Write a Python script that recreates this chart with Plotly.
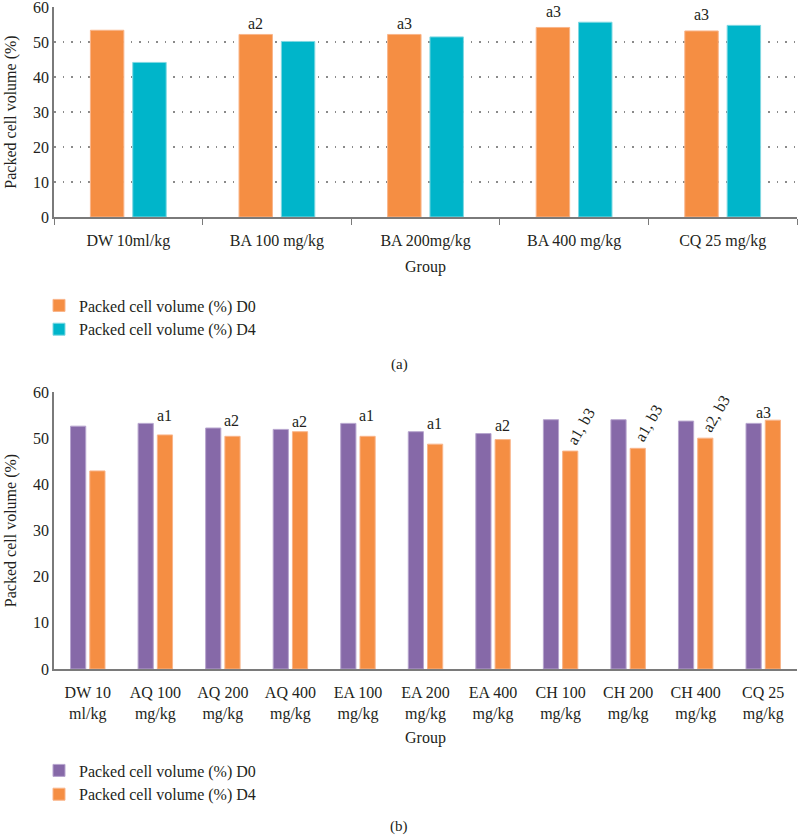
import plotly.graph_objects as go

# ---------------- data ----------------
groups_a = ["DW 10ml/kg", "BA 100 mg/kg", "BA 200mg/kg", "BA 400 mg/kg", "CQ 25 mg/kg"]
pcv_d0_a = [53.4, 52.2, 52.2, 54.2, 53.2]
pcv_d4_a = [44.2, 50.2, 51.5, 55.7, 54.8]
sig_a = ["", "a2", "a3", "a3", "a3"]

groups_b = ["DW 10 ml/kg", "AQ 100 mg/kg", "AQ 200 mg/kg", "AQ 400 mg/kg", "EA 100 mg/kg",
            "EA 200 mg/kg", "EA 400 mg/kg", "CH 100 mg/kg", "CH 200 mg/kg", "CH 400 mg/kg",
            "CQ 25 mg/kg"]
ticks_b = ["DW 10<br>ml/kg", "AQ 100<br>mg/kg", "AQ 200<br>mg/kg", "AQ 400<br>mg/kg",
           "EA 100<br>mg/kg", "EA 200<br>mg/kg", "EA 400<br>mg/kg", "CH 100<br>mg/kg",
           "CH 200<br>mg/kg", "CH 400<br>mg/kg", "CQ 25<br>mg/kg"]
pcv_d0_b = [52.6, 53.2, 52.2, 51.9, 53.2, 51.4, 51.0, 54.0, 54.0, 53.7, 53.2]
pcv_d4_b = [42.9, 50.7, 50.4, 51.4, 50.4, 48.7, 49.7, 47.2, 47.8, 50.0, 53.9]
sig_b = ["", "a1", "a2", "a2", "a1", "a1", "a2", "a1, b3", "a1, b3", "a2, b3", "a3"]

y_ticks = [0, 10, 20, 30, 40, 50, 60]
series_names = ["Packed cell volume (%) D0", "Packed cell volume (%) D4"]

# ---------------- style ----------------
FONT = "Liberation Serif"
ORANGE = "#F58E43"
TEAL = "#00B5CA"
PURPLE = "#8669A8"
AXIS = "#7a7a7a"
TXT = "#231f20"

W, H = 798, 839


def px_x(p):
    return p / W


def px_y(p):
    return 1 - p / H


fig = go.Figure()

fig.add_trace(go.Bar(x=groups_a, y=pcv_d0_a, name=series_names[0], marker_color=ORANGE,
                     marker_line=dict(color="#F9B58A", width=1),
                     xaxis="x", yaxis="y", legend="legend"))
fig.add_trace(go.Bar(x=groups_a, y=pcv_d4_a, name=series_names[1], marker_color=TEAL,
                     marker_line=dict(color="#7FD8E2", width=1),
                     xaxis="x", yaxis="y", legend="legend"))
fig.add_trace(go.Bar(x=groups_b, y=pcv_d0_b, name=series_names[0], marker_color=PURPLE,
                     marker_line=dict(color="#B7A5CE", width=1),
                     xaxis="x2", yaxis="y2", legend="legend2"))
fig.add_trace(go.Bar(x=groups_b, y=pcv_d4_b, name=series_names[1], marker_color=ORANGE,
                     marker_line=dict(color="#F9B58A", width=1),
                     xaxis="x2", yaxis="y2", legend="legend2"))

annotations = []
# panel (a): labels above the D0 bar
for g, d0, d4, s in zip(groups_a, pcv_d0_a, pcv_d4_a, sig_a):
    if s:
        annotations.append(dict(x=g, y=max(d0, d4), xref="x", yref="y", text=s,
                                showarrow=False, xanchor="center", yanchor="middle",
                                xshift=-21, yshift=11,
                                font=dict(family=FONT, size=16, color=TXT)))
# panel (b): labels above the D4 bar
for i, (g, d0, d4, s) in enumerate(zip(groups_b, pcv_d0_b, pcv_d4_b, sig_b)):
    if not s:
        continue
    if "," in s:
        annotations.append(dict(x=g, y=d4, xref="x2", yref="y2", text=s,
                                showarrow=False, xanchor="center", yanchor="middle",
                                textangle=-60, xshift=20, yshift=25,
                                font=dict(family=FONT, size=16, color=TXT)))
    else:
        xs = 0 if i == len(groups_b) - 1 else 9
        annotations.append(dict(x=g, y=max(d0, d4), xref="x2", yref="y2", text=s,
                                showarrow=False, xanchor="center", yanchor="middle",
                                xshift=xs, yshift=8,
                                font=dict(family=FONT, size=16, color=TXT)))

annotations.append(dict(x=px_x(399), y=px_y(364), xref="paper", yref="paper", text="(a)",
                        showarrow=False, xanchor="center", yanchor="middle",
                        font=dict(family=FONT, size=15, color=TXT)))
annotations.append(dict(x=px_x(399), y=px_y(826), xref="paper", yref="paper", text="(b)",
                        showarrow=False, xanchor="center", yanchor="middle",
                        font=dict(family=FONT, size=15, color=TXT)))

xdom = [px_x(54), px_x(797)]
tickfont = dict(family=FONT, size=16, color=TXT)
titlefont = dict(family=FONT, size=16, color=TXT)

fig.update_layout(
    width=W, height=H,
    margin=dict(l=0, r=0, t=0, b=0, autoexpand=False),
    paper_bgcolor="white", plot_bgcolor="white",
    bargap=0.43, bargroupgap=0.21, barmode="group",
    font=dict(family=FONT, size=16, color=TXT),
    annotations=annotations,
    xaxis=dict(domain=xdom, anchor="y", showline=True, linecolor=AXIS, linewidth=1.5,
               ticks="outside", tickson="boundaries", ticklen=6, tickcolor=AXIS,
               tickfont=tickfont, showgrid=False, automargin=False, ticklabelstandoff=8,
               title=dict(text="Group", font=titlefont, standoff=12)),
    yaxis=dict(domain=[px_y(217), px_y(7)], anchor="x", range=[0, 60.05],
               tickvals=y_ticks, showline=True, linecolor=AXIS, linewidth=1.5,
               ticks="", tickfont=tickfont, zeroline=False, automargin=False,
               ticklabeloverflow="allow",
               showgrid=True, gridcolor="#8a8a8a", griddash="1.5px,7px", gridwidth=1.5,
               title=dict(text="Packed cell volume (%)", font=titlefont, standoff=12)),
    xaxis2=dict(domain=xdom, anchor="y2", showline=True, linecolor=AXIS, linewidth=1.5,
                ticks="", tickfont=tickfont, showgrid=False, automargin=False,
                tickvals=groups_b, ticktext=ticks_b, ticklabelstandoff=8,
                title=dict(text="Group", font=titlefont, standoff=10)),
    yaxis2=dict(domain=[px_y(669), px_y(392)], anchor="x2", range=[0, 60],
                tickvals=y_ticks, showline=True, linecolor=AXIS, linewidth=1.5,
                ticks="", tickfont=tickfont, zeroline=False, showgrid=False, automargin=False,
                ticklabeloverflow="allow",
                title=dict(text="Packed cell volume (%)", font=titlefont, standoff=12)),
    legend=dict(x=px_x(39), y=px_y(288.5), xanchor="left", yanchor="top",
                orientation="v", font=dict(family=FONT, size=16, color=TXT),
                bgcolor="rgba(0,0,0,0)", traceorder="normal"),
    legend2=dict(x=px_x(39), y=px_y(753.5), xanchor="left", yanchor="top",
                 orientation="v", font=dict(family=FONT, size=16, color=TXT),
                 bgcolor="rgba(0,0,0,0)", traceorder="normal"),
    showlegend=True,
)

# remove the browser's default page margin so the figure fills the window exactly
fig.write_html("out.html", config={"displayModeBar": False},
               post_script="document.body.style.margin='0px';")
